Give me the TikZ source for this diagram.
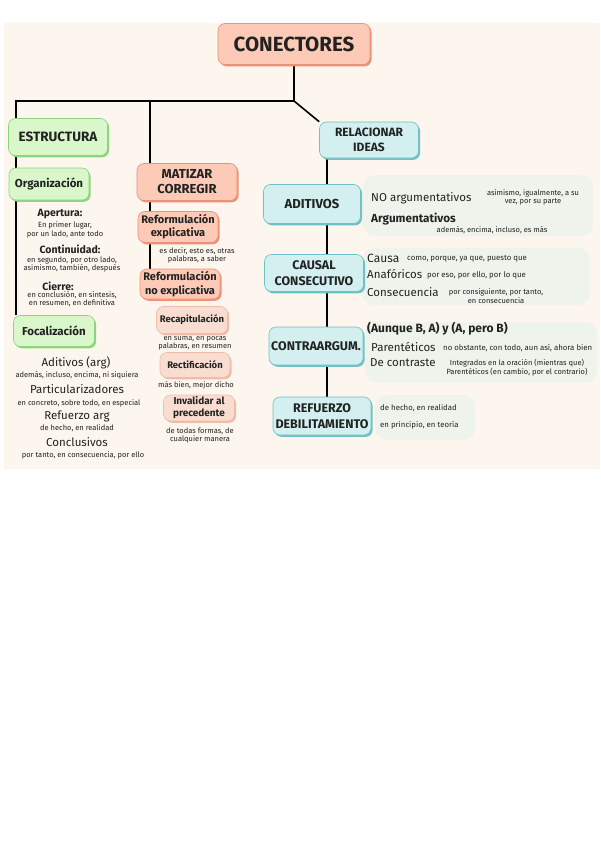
\documentclass[tikz,border=0pt]{standalone}
\usepackage{fontspec}
\setmainfont{Fira Sans}
\usetikzlibrary{positioning,shadows,backgrounds,calc}
\definecolor{paper}{HTML}{FDF6EE}
\definecolor{salmon}{HTML}{FCCAB6}
\definecolor{salmonline}{HTML}{EE9177}
\definecolor{pinkish}{HTML}{F9DDD1}
\definecolor{pinkline}{HTML}{F1BBA8}
\definecolor{leaf}{HTML}{D9F7CB}
\definecolor{leafline}{HTML}{8CD57B}
\definecolor{sea}{HTML}{D3EFEF}
\definecolor{sealine}{HTML}{6EC1C4}
\definecolor{mist}{HTML}{EEF4EC}
\definecolor{ink}{HTML}{222222}
\newcommand{\fsz}[2]{\fontsize{#1}{#2}\selectfont}
\tikzset{
  line/.style={line width=1.6pt,black},
  box/.style args={#1,#2}{
    rounded corners=7pt,
    align=center,
    inner sep=1pt,
    text=ink,
    fill=#1,
    draw=#2,
    line width=0.6pt,
    drop shadow={shadow xshift=1.6pt,shadow yshift=-1.8pt,fill=#2,opacity=1}
  },
  redbox/.style={box={salmon,salmonline}},
  greenbox/.style={box={leaf,leafline}},
  bluebox/.style={box={sea,sealine}},
  pinkbox/.style={box={pinkish,pinkline}},
  panel/.style={rounded corners=12pt,fill=mist,inner sep=0pt},
  head/.style={text=ink,align=center,inner sep=0pt,font=\fsz{10.5}{12}\bfseries},
  tiny/.style={text=ink,align=center,inner sep=0pt,font=\fsz{7.5}{8.5}},
  item/.style={text=ink,anchor=west,inner sep=0pt,font=\fsz{11.5}{12}},
  note/.style={text=ink,anchor=west,inner sep=0pt,font=\fsz{7.8}{8.5}}
}
\begin{document}
\begin{tikzpicture}[x=1pt,y=-1pt]
\useasboundingbox (0,0) rectangle (600,848);
\begin{scope}[on background layer]
  \fill[paper] (4,23) rectangle (600,469);
\end{scope}

% panels
\node[panel,minimum width=230pt,minimum height=61pt] (p1) at (478,205.5) {};
\node[panel,minimum width=228pt,minimum height=57pt] (p2) at (476,276.5) {};
\node[panel,minimum width=232pt,minimum height=61pt] (p3) at (481,352.5) {};
\node[panel,minimum width=100pt,minimum height=45pt] (p4) at (425,417.5) {};

% boxes
\node[redbox,minimum width=152pt,minimum height=41pt,font=\fsz{20.5}{22}\bfseries] (con) at (294,44) {CONECTORES};

\node[greenbox,minimum width=99pt,minimum height=37pt,font=\fsz{13.5}{15}\bfseries] (est) at (58,137) {ESTRUCTURA};
\node[greenbox,minimum width=80pt,minimum height=32pt,font=\fsz{11.5}{13}\bfseries] (org) at (49,184) {Organización};
\node[greenbox,minimum width=81pt,minimum height=31pt,font=\fsz{11.5}{13}\bfseries] (foc) at (54,331) {Focalización};

\node[redbox,minimum width=100pt,minimum height=37pt,font=\fsz{13}{15}\bfseries] (mat) at (187,182) {MATIZAR\\CORREGIR};
\node[redbox,minimum width=80pt,minimum height=31pt,font=\fsz{11}{13}\bfseries] (rex) at (178,227) {Reformulación\\explicativa};
\node[redbox,minimum width=80pt,minimum height=30pt,font=\fsz{11}{14}\bfseries] (rne) at (180,284) {Reformulación\\no explicativa};
\node[pinkbox,minimum width=71pt,minimum height=27pt,font=\fsz{9.5}{11}\bfseries] (rec) at (192,320) {Recapitulación};
\node[pinkbox,minimum width=70pt,minimum height=25pt,font=\fsz{9.5}{11}\bfseries] (rect) at (195,365) {Rectificación};
\node[pinkbox,minimum width=71pt,minimum height=26pt,font=\fsz{10}{12}\bfseries] (inv) at (199,408) {Invalidar al\\precedente};

\node[bluebox,minimum width=99pt,minimum height=36pt,font=\fsz{12}{15}\bfseries] (rel) at (369,140) {RELACIONAR\\IDEAS};
\node[bluebox,minimum width=97pt,minimum height=39pt,font=\fsz{13}{15}\bfseries] (adi) at (312,204) {ADITIVOS};
\node[bluebox,minimum width=99pt,minimum height=37pt,font=\fsz{12.5}{16}\bfseries] (cau) at (314,273) {CAUSAL\\CONSECUTIVO};
\node[bluebox,minimum width=94pt,minimum height=38pt,font=\fsz{12.5}{15}\bfseries] (ctr) at (316,346) {CONTRAARGUM.};
\node[bluebox,minimum width=98pt,minimum height=38pt,font=\fsz{12.5}{16}\bfseries] (rfz) at (322,416) {REFUERZO\\DEBILITAMIENTO};

% connectors
\coordinate (j) at (con.south |- 0,101);
\coordinate (jl) at (16,101);
\coordinate (jm) at (150,101);
\begin{scope}[on background layer]
  \draw[line] (con.south) -- (j) -- (jl) -- (jl |- foc.north);
  \draw[line] (jm) -- (jm |- rne.north);
  \draw[line] (j) -- (rel.north west);
  \draw[line] ([xshift=8pt]rel.south west) -- ([xshift=8pt]rel.south west |- rfz.north);
\end{scope}

% estructura
\node[head] (ap) at (60,214) {Apertura:};
\node[tiny] (ap1) at (65,230) {En primer lugar,\\por un lado, ante todo};
\node[head] (cn) at (70,249) {Continuidad:};
\node[tiny] (cn1) at (72,264.5) {en segundo, por otro lado,\\asimismo, también, después};
\node[head] (ci) at (58,286) {Cierre:};
\node[tiny] (ci1) at (72,299) {en conclusión, en síntesis,\\en resumen, en definitiva};

\node[head,font=\fsz{11.5}{13}] (fa) at (76,363) {Aditivos (arg)};
\node[tiny] (fa1) at (77,375) {además, incluso, encima, ni siquiera};
\node[head,font=\fsz{11.5}{13}] (fp) at (77,389) {Particularizadores};
\node[tiny] (fp1) at (79,403) {en concreto, sobre todo, en especial};
\node[head,font=\fsz{11.5}{13}] (fr) at (77,416) {Refuerzo arg};
\node[tiny] (fr1) at (77,428) {de hecho, en realidad};
\node[head,font=\fsz{11.5}{13}] (fc) at (77,442) {Conclusivos};
\node[tiny] (fc1) at (83,455) {por tanto, en consecuencia, por ello};

% matizar
\node[tiny] (rex1) at (197,255.5) {es decir, esto es, otras\\palabras, a saber};
\node[tiny] (rec1) at (195,343.5) {en suma, en pocas\\palabras, en resumen};
\node[tiny] (rect1) at (196,385) {más bien, mejor dicho};
\node[tiny] (inv1) at (200,435.5) {de todas formas, de\\cualquier manera};

% relacionar
\node[item] (na) at (371,198) {NO argumentativos};
\node[tiny] (na1) at (533,197.5) {asimismo, igualmente, a su\\vez, por su parte};
\node[item,font=\fsz{11.7}{12}\bfseries] (ar) at (371,219) {Argumentativos};
\node[tiny] (ar1) at (492,230) {además, encima, incluso, es más};

\node[item,font=\fsz{12}{13}] (ca) at (367,258) {Causa};
\node[note] (ca1) at (407,259) {como, porque, ya que, puesto que};
\node[item] (an) at (367,274) {Anafóricos};
\node[note] (an1) at (427,275) {por eso, por ello, por lo que};
\node[item] (cs) at (367,292) {Consecuencia};
\node[tiny] (cs1) at (496,296) {por consiguiente, por tanto,\\en consecuencia};

\node[item,font=\fsz{12}{13}\bfseries] (au) at (367,329) {(Aunque B, A) y (A, pero B)};
\node[item] (pa) at (371,347) {Parentéticos};
\node[note] (pa1) at (443,348) {no obstante, con todo, aun así, ahora bien};
\node[item] (dc) at (370,363) {De contraste};
\node[tiny] (dc1) at (517,367.5) {Integrados en la oración (mientras que)\\Parentéticos (en cambio, por el contrario)};

\node[note,font=\fsz{7.8}{8}] (rf1) at (380,408) {de hecho, en realidad};
\node[note,font=\fsz{7.8}{8}] (rf2) at (380,425) {en principio, en teoría};
\end{tikzpicture}
\end{document}
